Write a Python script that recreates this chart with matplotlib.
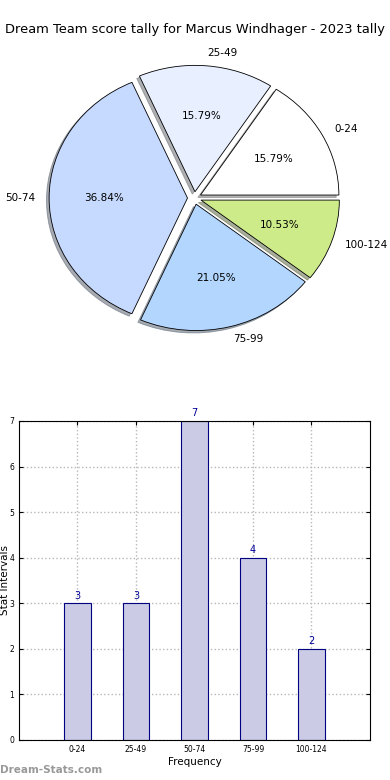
import numpy as np
import matplotlib
matplotlib.use("Agg")
import matplotlib.pyplot as plt

categories = ["0-24", "25-49", "50-74", "75-99", "100-124"]
counts = [3, 3, 7, 4, 2]
pie_colors = ["#ffffff", "#e8f0ff", "#c6d9ff", "#b3d6ff", "#ceeb8a"]

fig = plt.figure(figsize=(3.9, 7.8), dpi=100)

# pie chart (slightly stretched horizontally, like the original)
ax1 = fig.add_axes([0.055, 0.5436, 0.887, 0.405])
ax1.pie(counts, labels=categories, colors=pie_colors, explode=[0.05] * 5,
        autopct="%1.2f%%", shadow=dict(ox=-0.014, oy=-0.014, shade=0.6), startangle=0,
        wedgeprops=dict(edgecolor="black", linewidth=0.6),
        textprops=dict(fontsize=7.5))
ax1.set_aspect("auto")
ax1.set_xlim(-1.25, 1.25)
ax1.set_ylim(-1.25, 1.25)
fig.text(0.5, 0.962, "Dream Team score tally for Marcus Windhager - 2023 tally",
         ha="center", va="center", fontsize=9.4)

# bar chart
ax2 = fig.add_axes([0.0487, 0.0513, 0.9, 0.409])
x = np.arange(len(categories))
ax2.bar(x, counts, width=0.45, color="#cbcbe6", edgecolor="#000080", linewidth=0.8, zorder=2)
for xi, c in zip(x, counts):
    ax2.text(xi, c + 0.06, str(c), ha="center", va="bottom", color="#000099", fontsize=7)
ax2.set_xlim(-1, 5)
ax2.set_ylim(0, 7)
ax2.set_xticks(x)
ax2.set_xticklabels(categories)
ax2.set_yticks(range(8))
ax2.tick_params(labelsize=5.5, direction="in", length=3, top=True, right=True)
ax2.grid(True, linestyle=":", color="#b8b8b8", linewidth=1, zorder=0)
ax2.set_axisbelow(True)
ax2.set_xlabel("Frequency", fontsize=7.5, labelpad=2)
ax2.set_ylabel("Stat Intervals", fontsize=7.5)
ax2.yaxis.set_label_coords(-0.026, 0.5)

fig.text(0.0, 0.006, "Dream-Stats.com", color="#999999", fontsize=7.5, fontweight="bold",
         ha="left", va="bottom")

fig.savefig("out.png", dpi=100)
